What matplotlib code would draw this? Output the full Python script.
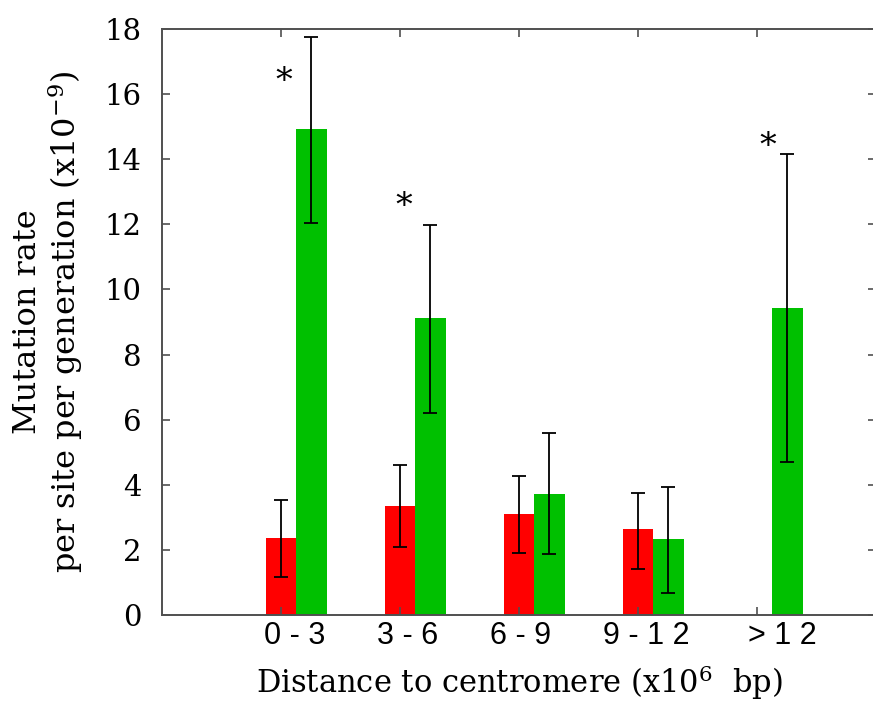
import numpy as np
import matplotlib
matplotlib.use("Agg")
import matplotlib.pyplot as plt
import matplotlib.transforms as mtransforms

plt.rcParams['font.family'] = ['DejaVu Serif']
plt.rcParams['mathtext.fontset'] = 'dejavuserif'

# data
categories = ["0 - 3", "3 - 6", "6 - 9", "9 - 1 2", "> 1 2"]
red_vals = [2.36, 3.36, 3.10, 2.63, np.nan]
red_lo = [1.17, 2.09, 1.90, 1.42, np.nan]
red_hi = [3.53, 4.61, 4.27, 3.75, np.nan]
green_vals = [14.92, 9.11, 3.72, 2.32, 9.42]
green_lo = [12.03, 6.22, 1.86, 0.69, 4.70]
green_hi = [17.74, 11.98, 5.58, 3.92, 14.16]
star_cat = [0, 1, 4]
star_y = [16.37, 12.54, 14.38]
star_shift = [0.02, 0.03, 0.09]
label_shift_px = [14, 8, 2, 8, 25]

x = np.arange(len(categories))
red_vals = np.array(red_vals)
green_vals = np.array(green_vals)

fig = plt.figure(figsize=(8.73, 7.04), dpi=100)
ax = fig.add_axes([162 / 873, 89 / 704, 714 / 873, 586 / 704])

ok = ~np.isnan(red_vals)
ax.bar(x[ok] - 0.125, red_vals[ok], width=0.25, align='edge', color='#ff0000', linewidth=0)
ax.bar(x + 0.125, green_vals, width=0.26, align='edge', color='#00c000', linewidth=0)

err_kw = dict(fmt='none', ecolor='#000000', elinewidth=1.3, capsize=5, capthick=1.3)
ax.errorbar(x[ok], red_vals[ok],
            yerr=[red_vals[ok] - np.array(red_lo)[ok], np.array(red_hi)[ok] - red_vals[ok]], **err_kw)
ax.errorbar(x + 0.255, green_vals,
            yerr=[green_vals - np.array(green_lo), np.array(green_hi) - green_vals], **err_kw)

for c, y, s in zip(star_cat, star_y, star_shift):
    ax.text(c + s, y, "*", ha='center', va='center', fontsize=24)

ax.set_xlim(-1, 5)
ax.set_ylim(0, 18)
ax.set_yticks(np.arange(0, 19, 2))
ax.set_xticks(x)
ax.set_xticklabels(categories, fontfamily='Liberation Sans', fontsize=22)
for lab in ax.get_yticklabels():
    lab.set_fontsize(21)

ax.tick_params(axis='both', direction='in', length=6, width=1.2, color='#505050',
               top=True, right=True)
ax.tick_params(axis='y', pad=15)
ax.tick_params(axis='x', pad=4)
for sp in ax.spines.values():
    sp.set_color('#505050')
    sp.set_linewidth(1.4)

# gnuplot put the category labels a bit right of the ticks
for lab, dx in zip(ax.get_xticklabels(), label_shift_px):
    lab.set_transform(lab.get_transform() + mtransforms.ScaledTranslation(dx / 100, 0, fig.dpi_scale_trans))

ax.set_xlabel("Distance to centromere (x10$^{6}$  bp)", fontsize=22, labelpad=9)
ax.set_ylabel("Mutation rate\nper site per generation (x10$^{-9}$)", fontsize=23,
              labelpad=14, linespacing=1.1)

fig.savefig("out.png", dpi=100)
